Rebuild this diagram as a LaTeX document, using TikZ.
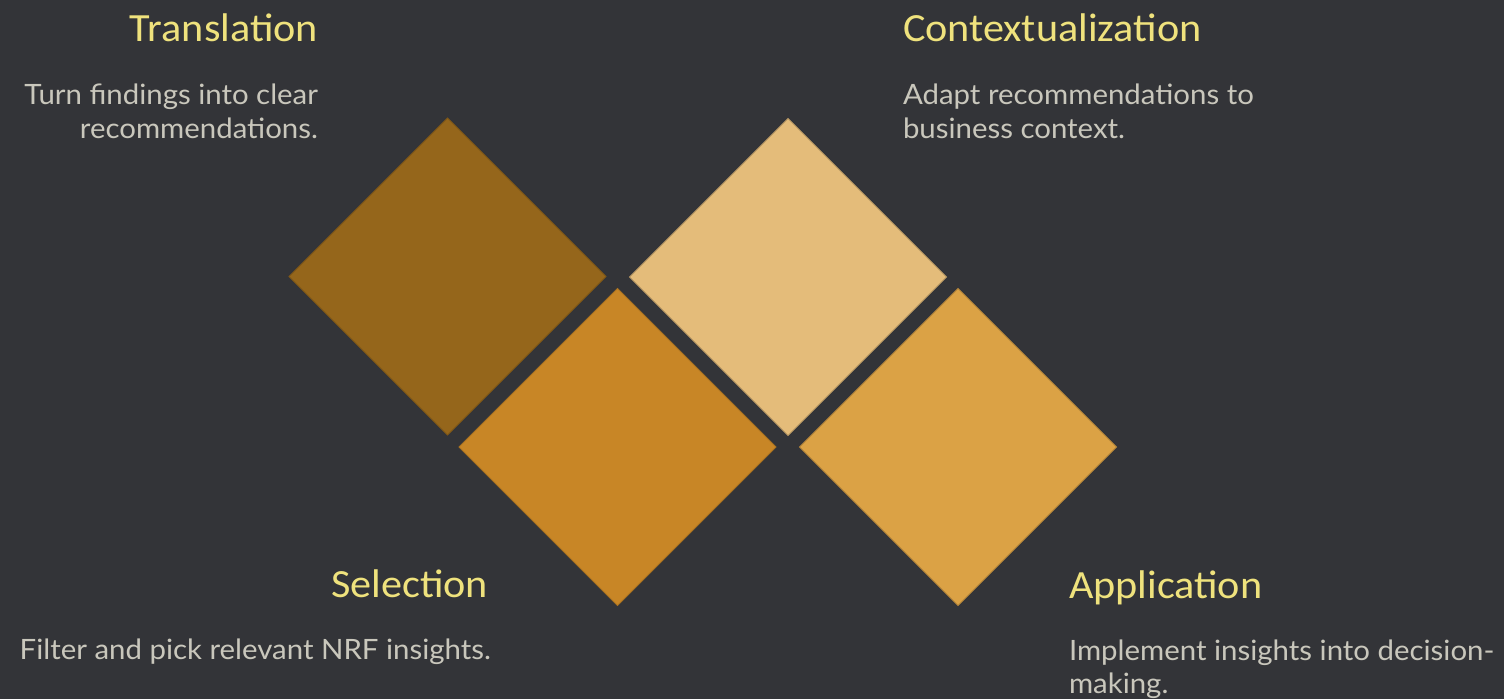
\documentclass[tikz,border=0pt]{standalone}
\usepackage{fontspec}
\setmainfont[FakeStretch=1.05]{Lato}
\newfontfamily\headfont[FakeStretch=1.055]{Carlito}
\usepackage{xcolor}
\usetikzlibrary{positioning, shapes.geometric}

\definecolor{bgdark}{HTML}{333438}
\definecolor{headyellow}{HTML}{EFE27D}
\definecolor{bodygray}{HTML}{C9C7BC}
\definecolor{transbrown}{HTML}{95661B}
\definecolor{selorange}{HTML}{C88626}
\definecolor{contlight}{HTML}{E4BC7A}
\definecolor{applgold}{HTML}{DBA245}

\begin{document}
\begin{tikzpicture}[
      x=1pt, y=-1pt,
      every node/.style={inner sep=0pt, outer sep=0pt},
      tile/.style={diamond, aspect=1, minimum width=317pt, minimum height=317pt, line width=0.8pt},
      head/.style={text=headyellow, font=\headfont\fontsize{40}{48}\selectfont},
      body/.style={text=bodygray, font=\fontsize{28}{34}\selectfont}
  ]
  % Background
  \fill[bgdark] (0,0) rectangle (1504,699);
  \useasboundingbox (0,0) rectangle (1504,699);

  % Tiles ------------------------------------------------
  \node[tile, fill=transbrown, draw=transbrown!85!black] (transtile) at (447.5,276.5) {};
  \node[tile, fill=contlight, draw=contlight!80!black] (conttile) at (788,277) {};
  \node[tile, fill=selorange, draw=selorange!85!black] (seltile) at (617.5,447) {};
  \node[tile, fill=applgold, draw=applgold!82!black] (appltile) at (958,447) {};

  % Labels ------------------------------------------------
  \node[head, anchor=base east] (transhead) at (318,41) {Translation};
  \node[body, anchor=base east] (transbody) at (318,104) {Turn findings into clear};
  \node[body, anchor=base east] (transbody2) at (318,138) {recommendations.};

  \node[head, anchor=base west] (conthead) at (903,41) {Contextualization};
  \node[body, anchor=base west] (contbody) at (903,104) {Adapt recommendations to};
  \node[body, anchor=base west] (contbody2) at (903,138) {business context.};

  \node[head, anchor=base east] (selhead) at (488,597) {Selection};
  \node[body, anchor=base east] (selbody) at (491,659) {Filter and pick relevant NRF insights.};

  \node[head, anchor=base west] (applhead) at (1069,598) {Application};
  \node[body, anchor=base west] (applbody) at (1069,660) {Implement insights into decision-};
  \node[body, anchor=base west] (applbody2) at (1069,693) {making.};
\end{tikzpicture}
\end{document}
